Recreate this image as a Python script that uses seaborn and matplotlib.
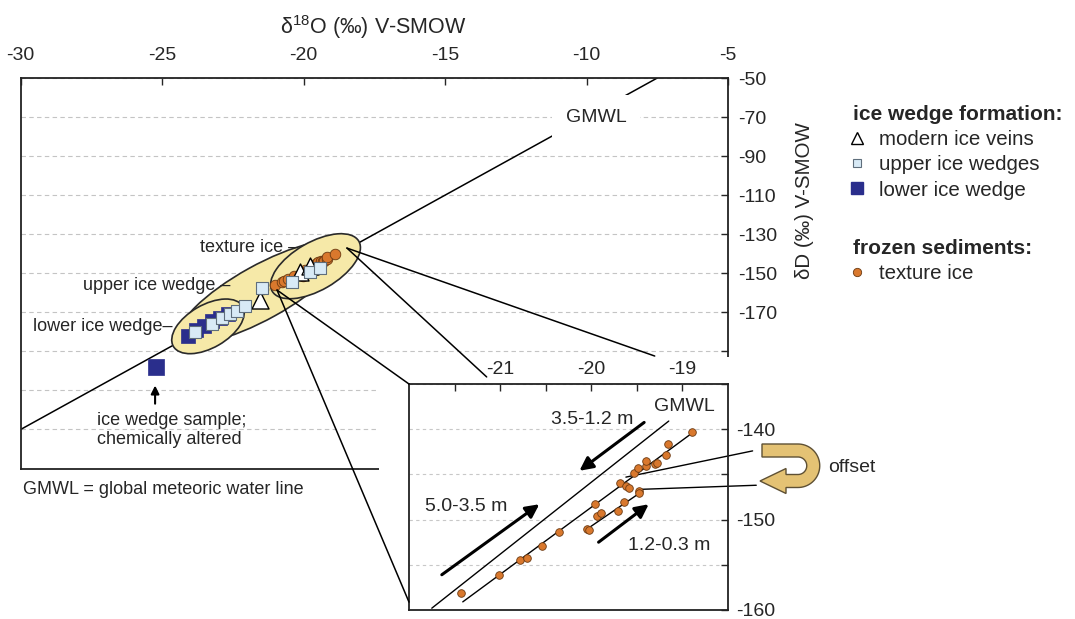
import numpy as np
import matplotlib
matplotlib.use("Agg")
import matplotlib.pyplot as plt
import matplotlib.transforms as mtransforms
import seaborn as sns
from matplotlib.patches import Ellipse, Polygon, Rectangle, ConnectionPatch
from matplotlib.lines import Line2D

sns.set_style("white")
plt.rcParams.update({
    "font.family": ["Liberation Sans", "DejaVu Sans"],
    "mathtext.fontset": "custom",
    "mathtext.rm": "Liberation Sans",
    "mathtext.it": "Liberation Sans:italic",
    "mathtext.bf": "Liberation Sans:bold",
    "font.size": 14,
    "axes.unicode_minus": False,
})

# ---- data ----
# ice wedge formation
lower_x = [-24.09, -23.81, -23.52, -23.24, -22.96, -22.67]
lower_y = [-182.1, -179.1, -177.0, -174.5, -172.9, -170.9]
altered_x = [-25.22]
altered_y = [-198.0]
upper_x = [-23.84, -23.24, -22.89, -22.60, -22.35, -22.07, -21.47, -20.41, -19.78, -19.42]
upper_y = [-180.1, -176.0, -172.9, -170.9, -169.3, -166.8, -157.5, -154.5, -149.4, -147.3]
veins_x = [-21.54, -20.13, -19.78]
veins_y = [-163.7, -149.4, -146.3]

# frozen sediments: texture ice
tex_x = [-21.43, -21.01, -20.78, -20.71, -20.54, -20.35, -20.05, -20.03, -19.96,
         -19.94, -19.89, -19.71, -19.64, -19.68, -19.62, -19.59, -19.48, -19.48,
         -19.53, -19.49, -19.40, -19.40, -19.30, -19.28, -19.18, -19.16, -18.89]
tex_y = [-158.1, -156.1, -154.5, -154.2, -152.9, -151.4, -151.0, -151.2, -148.3,
         -149.6, -149.3, -149.1, -148.1, -145.9, -146.3, -146.5, -146.8, -147.1,
         -144.8, -144.3, -144.1, -143.5, -143.8, -143.7, -142.8, -141.6, -140.3]

# GMWL (dD = 8 d18O + 10) end points
gmwl_x = [-30, -7.5]
gmwl_y = [-230, -50]

# inset reference lines
in_gmwl_x = [-21.75, -19.15]
in_gmwl_y = [-159.8, -139.1]
in_fit1_x = [-21.41, -18.89]
in_fit1_y = [-159.1, -140.4]
in_fit2_x = [-20.04, -19.46]
in_fit2_y = [-151.0, -147.0]

main_xticks = [-30, -25, -20, -15, -10, -5]
main_yticks = [-50, -70, -90, -110, -130, -150, -170, -190, -210, -230, -250]
main_ylabels = ["-50", "-70", "-90", "-110", "-130", "-150", "-170", "", "", "", ""]
inset_xticks = [-21, -20, -19]
inset_yticks = [-160, -150, -140]

navy = "#2a2e8c"
light = "#d8eaf6"
orange = "#d9782d"
orange_edge = "#6b3a12"
blob_fc = "#f6e9a8"

W, H = 1075, 619


def fx(px):
    return px / W


def fy(py):
    return 1 - py / H


fig = plt.figure(figsize=(W / 100, H / 100), dpi=100)

# ---- main axes ----
ax = fig.add_axes([fx(20.7), fy(468.5), (728 - 20.7) / W, (468.5 - 78) / H])
ax.set_zorder(1)
ax.set_xlim(-30, -5)
ax.set_ylim(-250, -50)
ax.xaxis.tick_top()
ax.yaxis.tick_right()
ax.set_xticks(main_xticks)
ax.set_xticklabels([str(v) for v in main_xticks])
ax.set_yticks(main_yticks)
ax.set_yticklabels(main_ylabels)
ax.tick_params(axis="x", direction="in", length=5, width=1, pad=10, labelsize=14)
ax.tick_params(axis="y", direction="in", length=5, width=1, pad=7, labelsize=14)
ax.yaxis.grid(True, linestyle=(0, (4, 3)), color="#c4c4c4", lw=0.8)
ax.set_axisbelow(True)
for s in ax.spines.values():
    s.set_color("#222222")
    s.set_linewidth(1.3)

ax.plot(gmwl_x, gmwl_y, color="black", lw=1.1, zorder=1.5)


def blob(cx, cy, w, h, ang):
    tr = fig.dpi_scale_trans + mtransforms.ScaledTranslation(cx, cy, ax.transData)
    ax.add_patch(Ellipse((0, 0), w / 100, h / 100, angle=ang, transform=tr,
                         fc=blob_fc, ec="#2a2a2a", lw=1.2, zorder=2))


blob(-21.48, -159.7, 186, 54, 29)
blob(-23.38, -177.2, 80, 43, 30)
blob(-19.58, -146.4, 100, 48, 30)

sns.scatterplot(x=tex_x, y=tex_y, ax=ax, s=58, color=orange, edgecolor=orange_edge,
                linewidth=0.6, zorder=3, legend=False)
sns.scatterplot(x=lower_x, y=lower_y, ax=ax, marker="s", s=88, color=navy,
                edgecolor=navy, linewidth=0.5, zorder=3, legend=False)
sns.scatterplot(x=altered_x, y=altered_y, ax=ax, marker="s", s=125, color=navy,
                edgecolor=navy, linewidth=0.5, zorder=3, legend=False)
sns.scatterplot(x=veins_x, y=veins_y, ax=ax, marker="^", s=150, color="white",
                edgecolor="black", linewidth=1.0, zorder=3.5, legend=False)
sns.scatterplot(x=upper_x, y=upper_y, ax=ax, marker="s", s=76, color=light,
                edgecolor="#5f6e7c", linewidth=0.8, zorder=4, legend=False)

ax.text(-9.67, -70, "GMWL", ha="center", va="center", fontsize=14, zorder=5,
        bbox=dict(boxstyle="square,pad=0.7", fc="white", ec="none"))
ax.text(-20.20, -136.6, "texture ice \u2013", ha="right", va="center", fontsize=13, zorder=5)
ax.text(-22.60, -156.5, "upper ice wedge \u2013", ha="right", va="center", fontsize=13, zorder=5)
ax.text(-24.62, -177.5, "lower ice wedge\u2013", ha="right", va="center", fontsize=13, zorder=5)
ax.text(-27.30, -230.5, "ice wedge sample;\nchemically altered", ha="left", va="center",
        multialignment="left", fontsize=13, linespacing=1.15, zorder=5)
ax.annotate("", xy=(-25.25, -207.5), xytext=(-25.25, -216.8),
            arrowprops=dict(arrowstyle="-|>", lw=1.5, color="black", mutation_scale=12,
                            shrinkA=0, shrinkB=0), zorder=5)

fig.text(fx(23), fy(490), "GMWL = global meteoric water line", ha="left", va="center", fontsize=13)
fig.text(fx(373), fy(27), r"δ$^{\mathrm{18}}$O (‰) V-SMOW", ha="center", va="center", fontsize=15.5)
fig.text(fx(805), fy(201), "δD (‰) V-SMOW", rotation=90, ha="center", va="center", fontsize=14.8)

# white cover where the inset sits
fig.add_artist(Rectangle((fx(379), 0), fx(770) - fx(379), fy(357), transform=fig.transFigure,
                         fc="white", ec="none", zorder=2))

# ---- inset ----
axin = fig.add_axes([fx(409), fy(610), (728 - 409) / W, (610 - 384) / H])
axin.set_zorder(3)
axin.set_facecolor("white")
axin.set_xlim(-22, -18.5)
axin.set_ylim(-160, -135)
axin.xaxis.tick_top()
axin.yaxis.tick_right()
axin.set_xticks(inset_xticks)
axin.set_xticks([-21.5, -20.5, -19.5], minor=True)
axin.set_yticks(inset_yticks)
axin.set_yticks([-155, -145, -135], minor=True)
axin.tick_params(which="both", direction="in", length=5, width=1, labelsize=14)
axin.tick_params(axis="x", pad=4)
axin.tick_params(axis="y", pad=6)
axin.yaxis.grid(True, which="both", linestyle=(0, (3, 3)), color="#c8c8c8", lw=0.8)
axin.set_axisbelow(True)
for s in axin.spines.values():
    s.set_color("#222222")
    s.set_linewidth(1.3)

for lx, ly in [(in_gmwl_x, in_gmwl_y), (in_fit1_x, in_fit1_y), (in_fit2_x, in_fit2_y)]:
    axin.plot(lx, ly, color="black", lw=1.0, zorder=2)

sns.scatterplot(x=tex_x, y=tex_y, ax=axin, s=30, color=orange, edgecolor=orange_edge,
                linewidth=0.6, zorder=3, legend=False)

arrow_kw = dict(arrowstyle="-|>", lw=2.2, color="black", mutation_scale=20, shrinkA=0, shrinkB=0)
axin.annotate("", xy=(-20.13, -144.6), xytext=(-19.42, -139.25), arrowprops=arrow_kw)
axin.annotate("", xy=(-20.57, -148.3), xytext=(-21.64, -156.1), arrowprops=arrow_kw)
axin.annotate("", xy=(-19.37, -148.3), xytext=(-19.92, -152.5), arrowprops=arrow_kw)
axin.text(-19.99, -138.96, "3.5-1.2 m", ha="center", va="center", fontsize=14)
axin.text(-21.37, -148.5, "5.0-3.5 m", ha="center", va="center", fontsize=14)
axin.text(-19.15, -152.9, "1.2-0.3 m", ha="center", va="center", fontsize=14)
axin.text(-18.98, -137.5, "GMWL", ha="center", va="center", fontsize=14)

# lines to the offset arrow
axin.plot([-19.62, -18.23], [-145.3, -142.4], color="black", lw=1.0, clip_on=False)
axin.plot([-19.45, -18.19], [-146.65, -146.2], color="black", lw=1.0, clip_on=False)

# ---- zoom connectors ----
con_kw = dict(color="black", lw=1.1, zorder=4)
fig.add_artist(ConnectionPatch(xyA=(-18.47, -137.1), coordsA=ax.transData,
                               xyB=(-7.59, -192.4), coordsB=ax.transData, **con_kw))
fig.add_artist(ConnectionPatch(xyA=(-18.47, -137.1), coordsA=ax.transData,
                               xyB=(-13.53, -203.1), coordsB=ax.transData, **con_kw))
fig.add_artist(ConnectionPatch(xyA=(-20.94, -158.6), coordsA=ax.transData,
                               xyB=(0, 1), coordsB=axin.transAxes, **con_kw))
fig.add_artist(ConnectionPatch(xyA=(-20.94, -158.6), coordsA=ax.transData,
                               xyB=(0, 0.035), coordsB=axin.transAxes, **con_kw))

# ---- curved "offset" arrow ----
cx, cy = 798, 465.75
r_out, r_in = 21.75, 8.75
th = np.linspace(-np.pi / 2, np.pi / 2, 40)
outer = [(762, cy - r_out)] + [(cx + r_out * np.cos(t), cy + r_out * np.sin(t)) for t in th]
outer += [(786, cy + r_out), (786, 493.5), (760, 481), (786, 468.5), (786, cy + r_in)]
inner = [(cx + r_in * np.cos(t), cy + r_in * np.sin(t)) for t in th[::-1]] + [(762, cy - r_in)]
pts = [(fx(px), fy(py)) for px, py in outer + inner]
fig.add_artist(Polygon(pts, closed=True, transform=fig.transFigure, fc="#e4c274",
                       ec="#5e5034", lw=1.0, zorder=4))
fig.text(fx(828), fy(468), "offset", ha="left", va="center", fontsize=14)

# ---- legends ----
h1 = [Line2D([], [], ls="none", marker="^", ms=9, mfc="white", mec="black", mew=1),
      Line2D([], [], ls="none", marker="s", ms=6, mfc=light, mec="#5f6e7c", mew=0.8),
      Line2D([], [], ls="none", marker="s", ms=8.5, mfc=navy, mec=navy)]
leg_kw = dict(loc="upper left", frameon=False, alignment="left", fontsize=14.8,
              handlelength=0.4, handletextpad=0.85, borderpad=0, labelspacing=0.3,
              borderaxespad=0, title_fontproperties={"weight": "bold", "size": 15})
fig.legend(h1, ["modern ice veins", "upper ice wedges", "lower ice wedge"],
           bbox_to_anchor=(fx(853), fy(105)), title="ice wedge formation:", **leg_kw)
h2 = [Line2D([], [], ls="none", marker="o", ms=6, mfc=orange, mec=orange_edge, mew=0.6)]
fig.legend(h2, ["texture ice"], bbox_to_anchor=(fx(853), fy(239)),
           title="frozen sediments:", **leg_kw)

fig.savefig("out.png", dpi=100)
